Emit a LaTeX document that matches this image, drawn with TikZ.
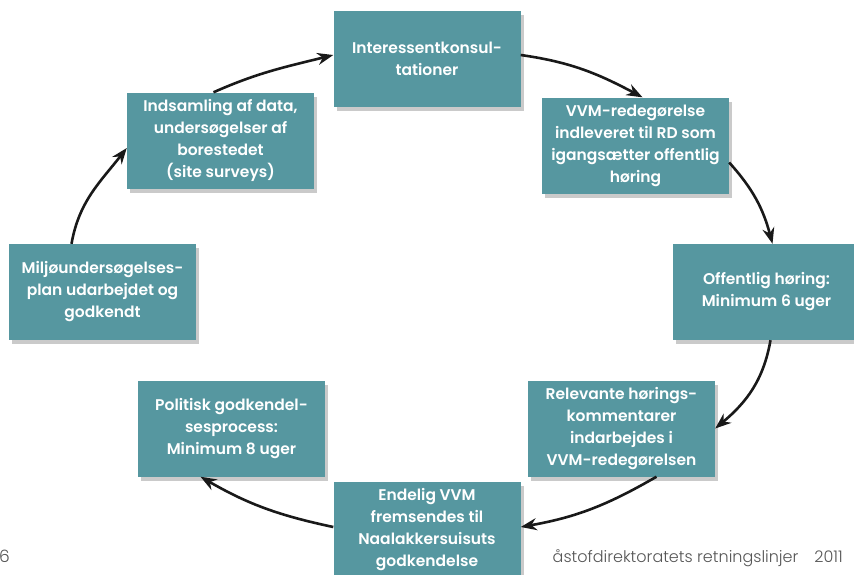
\documentclass[tikz,border=0pt]{standalone}
\usepackage{fontspec}
\setmainfont{Poppins}[BoldFont=* SemiBold]
\newfontfamily\thinfont{Poppins}[UprightFont=* Light]
\usetikzlibrary{arrows.meta,shadows,calc}
\definecolor{teal1}{RGB}{86,151,160}
\definecolor{foot}{RGB}{85,85,85}
\tikzset{
  stepbox/.style={fill=teal1, text=white, align=center, minimum width=187pt, minimum height=96pt,
    inner sep=0pt, font=\bfseries\fontsize{15.5}{22}\selectfont,
    drop shadow={shadow xshift=3pt, shadow yshift=-4pt, opacity=0.35, fill=black!60}},
  flow/.style={line width=2.6pt, draw=black!90, -{Stealth[length=16pt,width=12pt]}},
}
\begin{document}
\begin{tikzpicture}[x=1pt,y=-1pt]
\useasboundingbox (0,0) rectangle (854,574);
\node[stepbox] (inter) at (427,59) {Interessentkonsul-\\tationer};
\node[stepbox] (vvm) at (635.5,145.5) {VVM-redegørelse\\indleveret til RD som\\igangsætter offentlig\\høring};
\node[stepbox] (off) at (766.5,292) {Offentlig høring:\\Minimum 6 uger};
\node[stepbox] (rel) at (621.5,428.5) {Relevante hørings-\\kommentarer\\indarbejdes i\\VVM-redegørelsen};
\node[stepbox] (end) at (427,530) {Endelig VVM\\fremsendes til\\Naalakkersuisuts\\godkendelse};
\node[stepbox] (pol) at (231.5,428.5) {Politisk godkendel-\\sesprocess:\\Minimum 8 uger};
\node[stepbox] (mil) at (102.5,292) {Miljøundersøgelses-\\plan udarbejdet og\\godkendt};
\node[stepbox] (ind) at (220.5,140.5) {Indsamling af data,\\undersøgelser af\\borestedet\\(site surveys)};

\draw[flow] ([xshift=-31pt]mil.north) to[out=80,in=-128] ([yshift=-7.5pt]ind.west);
\draw[flow] ([xshift=-7pt]ind.north) to[out=24,in=194] ([yshift=4pt]inter.west);
\draw[flow] ([yshift=4pt]inter.east) to[out=-8,in=152] ([xshift=7pt]vvm.north);
\draw[flow] ([yshift=-17pt]vvm.east) to[out=-48,in=105] ([xshift=6pt]off.north);
\draw[flow] ([xshift=4pt]off.south) to[out=-100,in=40] (rel.east);
\draw[flow] ([xshift=35pt]rel.south) to[out=-150,in=10] ([yshift=3pt]end.east);
\draw[flow] ([yshift=3pt]end.west) to[out=168,in=-30] ([xshift=-31pt]pol.south);

\node[font=\thinfont\fontsize{17}{17}\selectfont, text=foot, anchor=base west, inner sep=0pt] (pg) at (-1,562) {6};
\node[font=\thinfont\fontsize{16}{16}\selectfont, text=foot, anchor=base east, inner sep=0pt] (ft) at (843,562) {åstofdirektoratets retningslinjer\hspace{16pt}2011};
\end{tikzpicture}
\end{document}
